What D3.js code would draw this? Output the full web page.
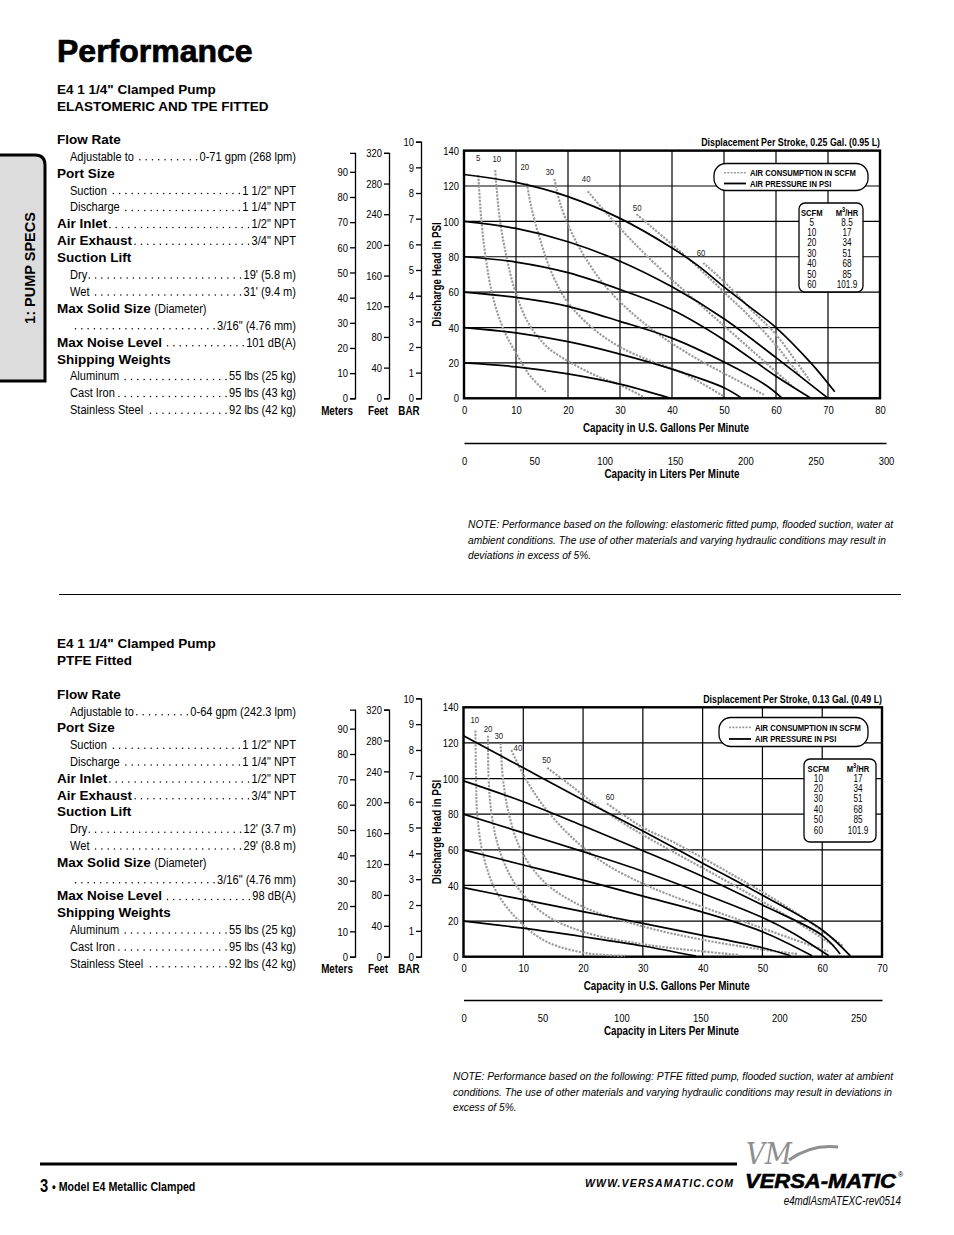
<!DOCTYPE html>
<html>
<head>
<meta charset="utf-8">
<title>Performance</title>
<script src="https://cdn.jsdelivr.net/npm/d3@7"></script>
<style>
  html, body { margin: 0; padding: 0; background: #fff; }
  svg { display: block; }
</style>
</head>
<body>
<script>
(function() {
  'use strict';

  // ---- axis ticks ----
  var psiTicks = [0, 20, 40, 60, 80, 100, 120, 140];
  var meterTicks = [0, 10, 20, 30, 40, 50, 60, 70, 80, 90];
  var feetTicks = [0, 40, 80, 120, 160, 200, 240, 280, 320];
  var barTicks = [0, 1, 2, 3, 4, 5, 6, 7, 8, 9, 10];
  var gpmTicksTop = [0, 10, 20, 30, 40, 50, 60, 70, 80];
  var gpmTicksBottom = [0, 10, 20, 30, 40, 50, 60, 70];
  var lpmTicksTop = [0, 50, 100, 150, 200, 250, 300];
  var lpmTicksBottom = [0, 50, 100, 150, 200, 250];

  // ---- elastomeric fitted: air pressure curves [gpm, psi] ----
  var pressureTop = [
    [[0, 126.5], [10, 122], [20, 114], [30, 101.7], [40, 85], [45, 75], [50, 63], [55, 51.5], [60, 40], [66.7, 20], [71.3, 3.7]],
    [[0, 100], [10, 96], [20, 88.5], [30, 77.5], [40, 63], [50, 45], [60, 23], [69.8, 0.5]],
    [[0, 80], [10, 77], [20, 71], [30, 61.5], [40, 50], [50, 33], [60, 12.5], [66.5, 0.5]],
    [[0, 60], [10, 57], [20, 52], [30, 43.5], [40, 34], [50, 20.5], [58, 7.5], [61, 0.5]],
    [[0, 40], [10, 37], [20, 32], [30, 25], [40, 16.5], [50, 6], [53.2, 0.5]],
    [[0, 20], [10, 17.8], [20, 13.8], [30, 8], [39.4, 0.3]]
  ];
  // air consumption curves (scfm)
  var airScfmTop = [5, 10, 20, 30, 40, 50, 60];
  var airTop = [
    [[2.75, 126], [3.3, 102], [4.2, 79], [5.5, 58], [7.6, 39], [10.4, 23.5], [12.9, 12], [15.7, 3.8]],
    [[6, 129], [6.8, 103], [8.1, 81], [9.8, 61], [12.3, 43], [16, 29], [20.9, 19.5], [26, 12], [30, 7.5], [34.7, 0.5]],
    [[12.1, 121.5], [12.8, 110], [14.5, 91], [17, 70], [20, 54], [25, 39], [30, 29], [36, 21], [41.6, 15], [46, 8], [50, 1]],
    [[17.4, 124], [18.5, 110], [20.5, 95], [23, 81], [27, 64], [32, 49], [38, 35], [45, 22], [52, 11], [57.7, 2]],
    [[23.8, 117], [27, 106], [31, 93], [35, 81], [40, 67], [45, 54], [50, 41], [55, 28], [60, 15], [63.5, 6]],
    [[33.2, 104], [36, 97], [40, 87], [45, 74], [50, 60], [55, 46], [60, 30], [64.5, 13]],
    [[46, 76.5], [50, 66], [55.6, 49], [60, 36], [64.3, 19], [66.5, 10]]
  ];
  var airLabelAtTop = [[2.7, 135.8], [6.3, 135.3], [11.7, 130.7], [16.5, 127.9], [23.5, 124.2], [33.3, 107.8], [45.6, 82.1]];
  var tableScfmTop = [5, 10, 20, 30, 40, 50, 60];
  var tableM3Top = ["8.5", "17", "34", "51", "68", "85", "101.9"];

  // ---- PTFE fitted ----
  var pressureBottom = [
    [[0, 124], [10, 106], [20, 88], [30, 70.5], [40, 52.5], [50, 34.5], [60, 15], [64.7, 0.5]],
    [[0, 98.7], [10, 87], [20, 73.5], [30, 59.5], [40, 45], [50, 29], [60, 12], [63, 1.5]],
    [[0, 80], [10, 69.5], [20, 59], [30, 48], [40, 35.5], [50, 22], [55, 13.5], [61.1, 0.5]],
    [[0, 60], [10, 51.5], [20, 43], [30, 34], [40, 25], [50, 14], [58.3, 0.5]],
    [[0, 38.8], [10, 32], [20, 25.3], [30, 18.7], [40, 12], [50, 5], [54.7, 0.5]],
    [[0, 20], [10, 16], [20, 11.2], [30, 6], [38.9, 0.3]]
  ];
  var airScfmBottom = [10, 20, 30, 40, 50, 60];
  var airBottom = [
    [[2, 127], [2.1, 100], [2.3, 80], [3.3, 57], [5.5, 36.5], [9.4, 19.7], [13.9, 8.4], [20.5, 2], [27, 0.5]],
    [[4.1, 124], [4.2, 100], [4.7, 80], [6, 60], [8.8, 40], [13.5, 24], [20, 14], [30, 7], [40, 3], [46, 1]],
    [[6.2, 120], [6.6, 100], [7.6, 80], [9.6, 60], [13.5, 42], [20, 28], [30, 17], [40, 9.5], [50, 4], [56, 1.5]],
    [[8, 116], [10.2, 101], [13.3, 85], [17.8, 68], [23.3, 53], [30, 41], [35, 34], [45, 22], [55, 10], [61, 3]],
    [[14, 106], [17.8, 96.5], [22.2, 85], [26.7, 75], [31, 66.5], [35, 59], [45, 40.5], [55, 21], [62, 6]],
    [[24, 86], [30, 72.5], [35, 64.5], [45, 46], [55, 26], [63.5, 6]]
  ];
  var airLabelAtBottom = [[1.9, 132.7], [4.1, 127.6], [5.9, 123.7], [9.1, 117], [13.9, 110.3], [24.5, 89.5]];
  var tableScfmBottom = [10, 20, 30, 40, 50, 60];
  var tableM3Bottom = ["17", "34", "51", "68", "85", "101.9"];

  // ---- spec sheets ----
  var specsTop = [
    {head: true, label: "Flow Rate"},
    {label: "Adjustable to", value: "0-71 gpm (268 lpm)"},
    {head: true, label: "Port Size"},
    {label: "Suction", value: "1 1/2\" NPT"},
    {label: "Discharge", value: "1 1/4\" NPT"},
    {head: true, label: "Air Inlet", value: "1/2\" NPT"},
    {head: true, label: "Air Exhaust", value: "3/4\" NPT"},
    {head: true, label: "Suction Lift"},
    {label: "Dry", value: "19' (5.8 m)"},
    {label: "Wet", value: "31' (9.4 m)"},
    {head: true, label: "Max Solid Size", note: "(Diameter)"},
    {label: "", value: "3/16\" (4.76 mm)"},
    {head: true, label: "Max Noise Level", value: "101 dB(A)"},
    {head: true, label: "Shipping Weights"},
    {label: "Aluminum", value: "55 lbs (25 kg)"},
    {label: "Cast Iron", value: "95 lbs (43 kg)"},
    {label: "Stainless Steel", value: "92 lbs (42 kg)"}
  ];
  var specsBottom = [
    {head: true, label: "Flow Rate"},
    {label: "Adjustable to", value: "0-64 gpm (242.3 lpm)"},
    {head: true, label: "Port Size"},
    {label: "Suction", value: "1 1/2\" NPT"},
    {label: "Discharge", value: "1 1/4\" NPT"},
    {head: true, label: "Air Inlet", value: "1/2\" NPT"},
    {head: true, label: "Air Exhaust", value: "3/4\" NPT"},
    {head: true, label: "Suction Lift"},
    {label: "Dry", value: "12' (3.7 m)"},
    {label: "Wet", value: "29' (8.8 m)"},
    {head: true, label: "Max Solid Size", note: "(Diameter)"},
    {label: "", value: "3/16\" (4.76 mm)"},
    {head: true, label: "Max Noise Level", value: "98 dB(A)"},
    {head: true, label: "Shipping Weights"},
    {label: "Aluminum", value: "55 lbs (25 kg)"},
    {label: "Cast Iron", value: "95 lbs (43 kg)"},
    {label: "Stainless Steel", value: "92 lbs (42 kg)"}
  ];
  var noteTop = [
    "NOTE: Performance based on the following: elastomeric fitted pump, flooded suction, water at",
    "ambient conditions. The use of other materials and varying hydraulic conditions may result in",
    "deviations in excess of 5%."
  ];
  var noteBottom = [
    "NOTE: Performance based on the following: PTFE fitted pump, flooded suction, water at ambient",
    "conditions. The use of other materials and varying hydraulic conditions may result in deviations in",
    "excess of 5%."
  ];

  var M_PSI = 1.4223, FT_PSI = 0.4335, BAR_PSI = 14.504, L_GAL = 3.7854;
  var NARROW = 0.82;
  var SANS = '"Liberation Sans", Arial, Helvetica, sans-serif';

  var svg = d3.select("body").append("svg")
    .attr("width", 954).attr("height", 1235)
    .attr("viewBox", "0 0 954 1235");

  function txt(parent, x, y, s, o) {
    o = o || {};
    var sx = o.narrow ? NARROW : 1;
    var rot = o.rotate ? " rotate(" + o.rotate + ")" : "";
    return parent.append("text")
      .attr("transform", "translate(" + x + "," + y + ")" + rot + " scale(" + sx + ",1)")
      .attr("font-family", o.family || SANS)
      .attr("font-size", o.size || 12)
      .attr("font-weight", o.bold ? "bold" : "normal")
      .attr("font-style", o.italic ? "italic" : "normal")
      .attr("text-anchor", o.anchor || "start")
      .attr("fill", o.fill || "#000")
      .text(s);
  }

  function len(t, narrow) {
    return t.node().getComputedTextLength() * (narrow ? NARROW : 1);
  }

  function styleAxis(a, size) {
    a.attr("font-family", SANS).attr("font-size", size);
    a.selectAll("path, line").attr("stroke", "#000").attr("stroke-width", 1.3);
    a.selectAll(".tick text").each(function() {
      var t = d3.select(this);
      var xv = +t.attr("x") || 0;
      t.attr("x", xv / NARROW).attr("transform", "scale(" + NARROW + ",1)").attr("fill", "#000");
    });
  }

  // ---- page furniture ----
  txt(svg, 57, 62, "Performance", {bold: true, size: 32}).attr("stroke", "#000").attr("stroke-width", 0.7);

  svg.append("path")
    .attr("d", "M0,155 H35 Q45,155 45,165 V381 H0")
    .attr("fill", "#dcdcdc").attr("stroke", "#000").attr("stroke-width", 3);
  txt(svg, 35, 268, "1: PUMP SPECS", {bold: true, size: 14.5, anchor: "middle", rotate: -90});

  svg.append("line").attr("x1", 59).attr("x2", 901).attr("y1", 594.5).attr("y2", 594.5)
    .attr("stroke", "#000").attr("stroke-width", 1);

  function drawSpecs(title1, title2, titleY, rows, yStart, step) {
    txt(svg, 57, titleY, title1, {bold: true, size: 13.5});
    txt(svg, 57, titleY + 17, title2, {bold: true, size: 13.5});
    rows.forEach(function(r, i) {
      var yb = yStart + i * step + 4.8;
      var endX;
      if (r.head) {
        var h = txt(svg, 57, yb, r.label, {bold: true, size: 13.5});
        endX = 57 + len(h);
        if (r.note) {
          var n = txt(svg, endX + 3.5, yb, r.note, {narrow: true, size: 13.5});
          endX += 3.5 + len(n, true);
        }
      } else {
        var l = txt(svg, 70, yb, r.label, {narrow: true, size: 13.5});
        endX = 70 + (r.label ? len(l, true) : 0);
      }
      if (!r.value) return;
      var v = txt(svg, 296, yb, r.value, {narrow: true, size: 13.5, anchor: "end"});
      var startX = 296 - len(v, true);
      var dots = svg.append("g");
      for (var cx = startX - 3; cx > endX + 2; cx -= 6.3) {
        dots.append("circle").attr("cx", cx).attr("cy", yb - 0.9).attr("r", 0.75).attr("fill", "#000");
      }
    });
  }

  drawSpecs("E4 1 1/4\" Clamped Pump", "ELASTOMERIC AND TPE FITTED", 94, specsTop, 139, 16.9);
  drawSpecs("E4 1 1/4\" Clamped Pump", "PTFE Fitted", 647.5, specsBottom, 694, 16.8);

  function drawNote(lines, x, y0, widths) {
    var ratio = 1;
    lines.forEach(function(s, i) {
      var t = txt(svg, x, y0 + i * 15.7, s, {italic: true, size: 11.5});
      var natural = t.node().getComputedTextLength();
      if (widths[i]) ratio = widths[i] / natural;
      t.attr("textLength", natural * ratio).attr("lengthAdjust", "spacingAndGlyphs");
    });
  }
  drawNote(noteTop, 468, 528, [425, 418]);
  drawNote(noteBottom, 453, 1080, [440, 439]);

  // ---- chart ----
  function drawChart(o) {
    var g = svg.append("g");
    var x = d3.scaleLinear().domain([0, o.gpmMax]).range([o.left, o.right]);
    var y = d3.scaleLinear().domain([0, 140]).range([o.bottom, o.top]);

    g.append("g").selectAll("line").data(o.gpmTicks).join("line")
      .attr("x1", function(d) { return x(d); }).attr("x2", function(d) { return x(d); })
      .attr("y1", o.top).attr("y2", o.bottom)
      .attr("stroke", "#000").attr("stroke-width", 1.2);
    g.append("g").selectAll("line").data(psiTicks).join("line")
      .attr("x1", o.left).attr("x2", o.right)
      .attr("y1", function(d) { return y(d); }).attr("y2", function(d) { return y(d); })
      .attr("stroke", "#000").attr("stroke-width", 1.2);
    g.append("rect")
      .attr("x", o.left).attr("y", o.top)
      .attr("width", o.right - o.left).attr("height", o.bottom - o.top)
      .attr("fill", "none").attr("stroke", "#000").attr("stroke-width", 2.4);

    // psi axis
    var ay = g.append("g").attr("transform", "translate(" + (o.left - 1) + ",0)")
      .call(d3.axisLeft(y).tickValues(psiTicks).tickSize(0).tickPadding(4));
    ay.select(".domain").remove();
    styleAxis(ay, 11.5);

    // meters / feet / bar
    var yM = d3.scaleLinear().domain([0, 97.5]).range([y(0), y(97.5 * M_PSI)]);
    var yF = d3.scaleLinear().domain([0, 320]).range([y(0), y(320 * FT_PSI)]);
    var yB = d3.scaleLinear().domain([0, 10]).range([y(0), y(10 * BAR_PSI)]);
    [[yM, meterTicks, 355, "Meters", 337], [yF, feetTicks, 389, "Feet", 378], [yB, barTicks, 421, "BAR", 409]]
      .forEach(function(s) {
        var a = g.append("g").attr("transform", "translate(" + s[2] + ",0)")
          .call(d3.axisLeft(s[0]).tickValues(s[1]).tickSize(5).tickPadding(2));
        styleAxis(a, 11.5);
        txt(g, s[4], o.bottom + 16.5, s[3], {bold: true, narrow: true, size: 12, anchor: "middle"});
      });
    txt(g, 441, (o.top + o.bottom) / 2, "Discharge Head in PSI",
      {bold: true, narrow: true, size: 12, anchor: "middle", rotate: -90});

    // gpm axis
    var ax = g.append("g").attr("transform", "translate(0," + o.bottom + ")")
      .call(d3.axisBottom(x).tickValues(o.gpmTicks).tickSize(0).tickPadding(7.5));
    ax.select(".domain").remove();
    styleAxis(ax, 11.5);
    txt(g, (o.left + o.right) / 2 - 6, o.bottom + 33.5, "Capacity in U.S. Gallons Per Minute",
      {bold: true, narrow: true, size: 12, anchor: "middle"});

    // l/min axis
    var xl = d3.scaleLinear().domain([0, o.lpmMax]).range([o.left, o.lpmRight]);
    var al = g.append("g").attr("transform", "translate(0," + o.lpmY + ")")
      .call(d3.axisBottom(xl).tickValues(o.lpmTicks).tickSize(0).tickSizeOuter(0).tickPadding(13.8));
    styleAxis(al, 11.5);
    txt(g, o.left + 208, o.lpmY + 35, "Capacity in Liters Per Minute",
      {bold: true, narrow: true, size: 12, anchor: "middle"});

    txt(g, o.right, o.top - 4.6, o.displacement, {bold: true, narrow: true, size: 10.8, anchor: "end"});

    var line = d3.line()
      .x(function(d) { return x(d[0]); })
      .y(function(d) { return y(d[1]); })
      .curve(d3.curveCatmullRom.alpha(0.5));

    g.append("g").selectAll("path").data(o.air).join("path")
      .attr("d", line).attr("fill", "none")
      .attr("stroke", "#9a9a9a").attr("stroke-width", 2.1).attr("stroke-dasharray", "2.2,1.3");
    g.append("g").selectAll("text").data(o.airScfm).join("text")
      .attr("transform", function(d, i) {
        return "translate(" + x(o.airLabelAt[i][0]) + "," + (y(o.airLabelAt[i][1]) + 3) + ") scale(" + NARROW + ",1)";
      })
      .attr("font-family", SANS).attr("font-size", 9.5).attr("text-anchor", "middle").attr("fill", "#222")
      .text(function(d) { return d; });
    g.append("g").selectAll("path").data(o.pressure).join("path")
      .attr("d", line).attr("fill", "none")
      .attr("stroke", "#000").attr("stroke-width", 1.7);

    // legend
    var lg = o.legend;
    g.append("rect").attr("x", lg[0]).attr("y", lg[1]).attr("width", lg[2]).attr("height", lg[3])
      .attr("rx", 12).attr("fill", "#fff").attr("stroke", "#000").attr("stroke-width", 1.3);
    var ly1 = lg[1] + lg[3] * 0.34, ly2 = lg[1] + lg[3] * 0.74;
    g.append("line").attr("x1", lg[0] + 10).attr("x2", lg[0] + 32).attr("y1", ly1).attr("y2", ly1)
      .attr("stroke", "#9a9a9a").attr("stroke-width", 1.6).attr("stroke-dasharray", "2,1.3");
    g.append("line").attr("x1", lg[0] + 10).attr("x2", lg[0] + 32).attr("y1", ly2).attr("y2", ly2)
      .attr("stroke", "#000").attr("stroke-width", 1.8);
    txt(g, lg[0] + 36, ly1 + 3.2, "AIR CONSUMPTION IN SCFM", {bold: true, narrow: true, size: 9.3});
    txt(g, lg[0] + 36, ly2 + 3.2, "AIR PRESSURE IN PSI", {bold: true, narrow: true, size: 9.3});

    var tb = o.table;
    g.append("rect").attr("x", tb[0]).attr("y", tb[1]).attr("width", tb[2]).attr("height", tb[3])
      .attr("rx", 6).attr("fill", "#fff").attr("stroke", "#000").attr("stroke-width", 1.3);
    var c1 = tb[0] + tb[2] * 0.2, c2 = tb[0] + tb[2] * 0.75;
    txt(g, c1, tb[1] + 12.5, "SCFM", {bold: true, narrow: true, size: 9.3, anchor: "middle"});
    var hdr = txt(g, c2, tb[1] + 12.5, "M", {bold: true, narrow: true, size: 9.3, anchor: "middle"});
    hdr.append("tspan").attr("dy", -3.5).attr("font-size", 7).text("3");
    hdr.append("tspan").attr("dy", 3.5).text("/HR");
    o.scfm.forEach(function(s, i) {
      var yy = tb[1] + 22.5 + i * 10.45;
      txt(g, c1, yy, String(s), {narrow: true, size: 10, anchor: "middle"});
      txt(g, c2, yy, o.m3[i], {narrow: true, size: 10, anchor: "middle"});
    });
  }

  drawChart({
    left: 464, right: 880, top: 150.6, bottom: 398.3,
    gpmMax: 80, gpmTicks: gpmTicksTop,
    lpmMax: 300, lpmRight: 886, lpmY: 443, lpmTicks: lpmTicksTop,
    displacement: "Displacement Per Stroke, 0.25 Gal. (0.95 L)",
    pressure: pressureTop, air: airTop, airScfm: airScfmTop, airLabelAt: airLabelAtTop,
    legend: [714, 163.5, 154, 27], table: [799, 203, 64, 89],
    scfm: tableScfmTop, m3: tableM3Top
  });
  drawChart({
    left: 463.5, right: 882, top: 707.3, bottom: 956.7,
    gpmMax: 70, gpmTicks: gpmTicksBottom,
    lpmMax: 70 * L_GAL, lpmRight: 882, lpmY: 1000, lpmTicks: lpmTicksBottom,
    displacement: "Displacement Per Stroke, 0.13 Gal. (0.49 L)",
    pressure: pressureBottom, air: airBottom, airScfm: airScfmBottom, airLabelAt: airLabelAtBottom,
    legend: [719, 717.5, 149, 29], table: [804, 759, 72, 83],
    scfm: tableScfmBottom, m3: tableM3Bottom
  });

  // ---- footer ----
  svg.append("line").attr("x1", 40).attr("x2", 737).attr("y1", 1164).attr("y2", 1164)
    .attr("stroke", "#000").attr("stroke-width", 3.2);
  txt(svg, 40, 1192, "3", {bold: true, narrow: true, size: 18});
  txt(svg, 52, 1191, "\u2022 Model E4 Metallic Clamped", {bold: true, narrow: true, size: 13});
  txt(svg, 733, 1187, "WWW.VERSAMATIC.COM", {bold: true, italic: true, size: 10.5, anchor: "end"})
    .attr("textLength", 148).attr("lengthAdjust", "spacing");

  txt(svg, 746, 1164, "VM", {italic: true, size: 30, family: '"DejaVu Serif", serif', fill: "#8f8f8f"})
    .attr("textLength", 46).attr("lengthAdjust", "spacingAndGlyphs");
  svg.append("path").attr("d", "M789,1160 C803,1150 820,1145 838,1147")
    .attr("fill", "none").attr("stroke", "#8f8f8f").attr("stroke-width", 3);
  txt(svg, 745, 1188, "VERSA-MATIC", {bold: true, italic: true, size: 20})
    .attr("textLength", 151).attr("lengthAdjust", "spacingAndGlyphs")
    .attr("stroke", "#000").attr("stroke-width", 0.6);
  txt(svg, 898, 1177, "\u00ae", {size: 7});
  txt(svg, 901, 1205, "e4mdlAsmATEXC-rev0514", {italic: true, narrow: true, size: 12, anchor: "end"});
}());
</script>
</body>
</html>
